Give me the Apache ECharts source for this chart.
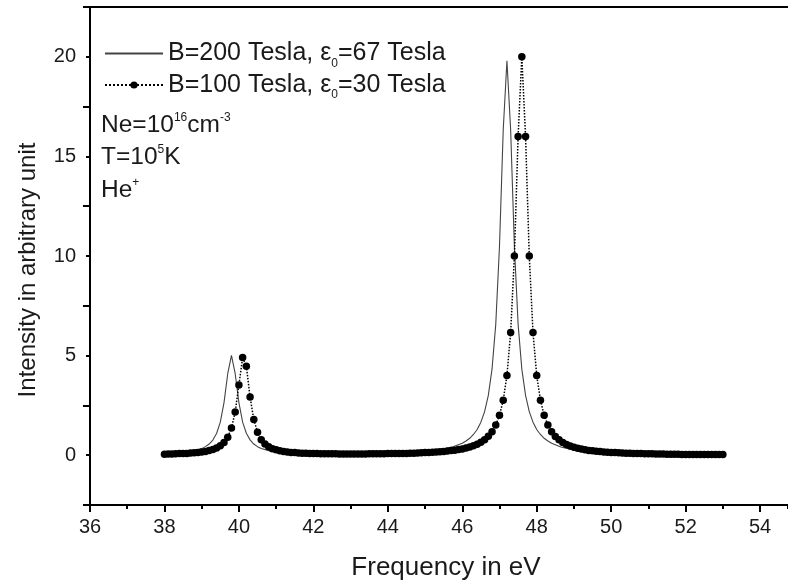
<!DOCTYPE html>
<html>
<head>
<meta charset="utf-8">
<script src="https://cdn.jsdelivr.net/npm/echarts@6/dist/echarts.min.js"></script>
<style>
html,body{margin:0;padding:0;background:#fff;}
#chart{width:788px;height:586px;}
</style>
</head>
<body>
<div id="chart"></div>
<script>
// ---- Data ----
const seriesNames = ['B=200 Tesla, ε0=67 Tesla', 'B=100 Tesla, ε0=30 Tesla'];

// B=200 Tesla (solid line)
const freqB200 = [
  38.0, 38.2, 38.4, 38.6, 38.8, 39.0, 39.1, 39.2, 39.3, 39.4,
  39.5, 39.6, 39.7, 39.8, 39.9, 40.0, 40.1, 40.2, 40.3, 40.4,
  40.5, 40.6, 40.8, 41.0, 41.25, 41.5, 42.0, 42.5, 43.0, 43.5,
  44.0, 44.5, 45.0, 45.25, 45.5, 45.75, 46.0, 46.1, 46.2, 46.3,
  46.4, 46.5, 46.6, 46.7, 46.8, 46.9, 47.0, 47.1, 47.2, 47.3,
  47.4, 47.5, 47.6, 47.7, 47.8, 47.9, 48.0, 48.1, 48.2, 48.3,
  48.4, 48.65, 48.9, 49.15, 49.4, 49.9, 50.4, 50.9, 51.4, 51.9,
  52.4, 52.9, 53.0
];
const intensB200 = [
  0.08, 0.10, 0.12, 0.16, 0.22, 0.33, 0.43, 0.56, 0.76, 1.09,
  1.66, 2.64, 4.09, 5.01, 4.09, 2.64, 1.66, 1.10, 0.77, 0.56,
  0.43, 0.34, 0.23, 0.17, 0.13, 0.10, 0.08, 0.07, 0.07, 0.08,
  0.10, 0.13, 0.19, 0.24, 0.31, 0.42, 0.60, 0.71, 0.85, 1.04,
  1.29, 1.66, 2.19, 3.00, 4.33, 6.58, 10.49, 16.31, 19.80, 16.31,
  10.49, 6.58, 4.32, 3.00, 2.19, 1.66, 1.29, 1.04, 0.85, 0.71,
  0.60, 0.41, 0.30, 0.23, 0.18, 0.12, 0.09, 0.06, 0.05, 0.04,
  0.03, 0.03, 0.03
];

// B=100 Tesla (dotted line with filled circles)
const freqB100 = [
  38.0, 38.1, 38.2, 38.3, 38.4, 38.5, 38.6, 38.7, 38.8, 38.9,
  39.0, 39.1, 39.2, 39.3, 39.4, 39.5, 39.6, 39.7, 39.8, 39.9,
  40.0, 40.1, 40.2, 40.3, 40.4, 40.5, 40.6, 40.7, 40.8, 40.9,
  41.0, 41.1, 41.2, 41.3, 41.4, 41.5, 41.6, 41.7, 41.8, 41.9,
  42.0, 42.1, 42.2, 42.3, 42.4, 42.5, 42.6, 42.7, 42.8, 42.9,
  43.0, 43.1, 43.2, 43.3, 43.4, 43.5, 43.6, 43.7, 43.8, 43.9,
  44.0, 44.1, 44.2, 44.3, 44.4, 44.5, 44.6, 44.7, 44.8, 44.9,
  45.0, 45.1, 45.2, 45.3, 45.4, 45.5, 45.6, 45.7, 45.8, 45.9,
  46.0, 46.1, 46.2, 46.3, 46.4, 46.5, 46.6, 46.7, 46.8, 46.9,
  47.0, 47.1, 47.2, 47.3, 47.4, 47.5, 47.6, 47.7, 47.8, 47.9,
  48.0, 48.1, 48.2, 48.3, 48.4, 48.5, 48.6, 48.7, 48.8, 48.9,
  49.0, 49.1, 49.2, 49.3, 49.4, 49.5, 49.6, 49.7, 49.8, 49.9,
  50.0, 50.1, 50.2, 50.3, 50.4, 50.5, 50.6, 50.7, 50.8, 50.9,
  51.0, 51.1, 51.2, 51.3, 51.4, 51.5, 51.6, 51.7, 51.8, 51.9,
  52.0, 52.1, 52.2, 52.3, 52.4, 52.5, 52.6, 52.7, 52.8, 52.9,
  53.0
];
const intensB100 = [
  0.05, 0.06, 0.06, 0.07, 0.08, 0.08, 0.09, 0.11, 0.12, 0.14,
  0.16, 0.19, 0.23, 0.29, 0.36, 0.47, 0.64, 0.90, 1.36, 2.17,
  3.53, 4.90, 4.47, 2.92, 1.79, 1.15, 0.78, 0.56, 0.43, 0.33,
  0.27, 0.22, 0.19, 0.16, 0.14, 0.13, 0.11, 0.10, 0.10, 0.09,
  0.08, 0.08, 0.07, 0.07, 0.07, 0.07, 0.07, 0.06, 0.06, 0.06,
  0.06, 0.06, 0.06, 0.06, 0.06, 0.07, 0.07, 0.07, 0.07, 0.07,
  0.08, 0.08, 0.08, 0.09, 0.09, 0.09, 0.10, 0.10, 0.11, 0.12,
  0.13, 0.14, 0.15, 0.16, 0.17, 0.19, 0.21, 0.23, 0.25, 0.28,
  0.31, 0.36, 0.41, 0.47, 0.55, 0.65, 0.77, 0.95, 1.18, 1.51,
  2.00, 2.76, 4.00, 6.16, 10.00, 16.00, 20.00, 16.00, 10.00, 6.16,
  4.00, 2.76, 2.00, 1.51, 1.18, 0.94, 0.77, 0.64, 0.54, 0.46,
  0.40, 0.35, 0.31, 0.27, 0.24, 0.22, 0.20, 0.18, 0.16, 0.15,
  0.14, 0.13, 0.12, 0.11, 0.10, 0.10, 0.09, 0.08, 0.08, 0.07,
  0.07, 0.07, 0.06, 0.06, 0.06, 0.05, 0.05, 0.05, 0.05, 0.04,
  0.04, 0.04, 0.04, 0.04, 0.04, 0.03, 0.03, 0.03, 0.03, 0.03,
  0.03
];

const xAxisTitle = 'Frequency in eV';
const yAxisTitle = 'Intensity in arbitrary unit';

// ---- Build chart ----
const FONT = 'Liberation Sans, Arial, sans-serif';
const TXT = '#1a1a1a';
const pairs = (xs, ys) => xs.map((x, i) => [x, ys[i]]);
const X_MIN = 36, X_MAX = 54.75, Y_MIN = -2.5, Y_MAX = 22.5;

const chart = echarts.init(document.getElementById('chart'), null, {renderer: 'canvas'});

const legendRich = {
  a: {fontSize: 25, fontFamily: FONT, color: TXT, lineHeight: 27},
  s: {fontSize: 12, fontFamily: FONT, color: TXT, verticalAlign: 'bottom', lineHeight: 32}
};
const supRich = {
  a: {fontSize: 24.5, fontFamily: FONT, fill: TXT, lineHeight: 27},
  p: {fontSize: 12, fontFamily: FONT, fill: TXT, verticalAlign: 'top', lineHeight: 27}
};

const option = {
  animation: false,
  backgroundColor: '#fff',
  grid: {left: 90, right: 0, top: 7, bottom: 80, show: false},
  legend: {
    orient: 'vertical',
    left: 99,
    top: 36,
    itemWidth: 58,
    itemHeight: 9,
    itemGap: 3,
    data: [
      {name: seriesNames[0], itemStyle: {opacity: 0}},
      {name: seriesNames[1]}
    ],
    textStyle: {fontSize: 25, fontFamily: FONT, color: TXT, rich: legendRich},
    formatter: function (name) {
      const parts = name.split('ε0');
      return '{a|' + parts[0] + 'ε}{s|0}{a|' + parts[1] + '}';
    }
  },
  graphic: [
    {type: 'text', left: 101, top: 112, style: {text: '{a|Ne=10}{p|16}{a|cm}{p|-3}', rich: supRich}},
    {type: 'text', left: 101, top: 144, style: {text: '{a|T=10}{p|5}{a|K}', rich: supRich}},
    {type: 'text', left: 101, top: 177, style: {text: '{a|He}{p|+}', rich: supRich}}
  ],
  xAxis: [
    {
      type: 'value', min: X_MIN, max: X_MAX, interval: 2, position: 'bottom',
      name: xAxisTitle, nameLocation: 'middle', nameGap: 50,
      nameTextStyle: {fontSize: 26, fontFamily: FONT, color: TXT, padding: [0, 0, 0, 14]},
      axisLine: {onZero: false, lineStyle: {color: '#000', width: 2}},
      axisTick: {show: true, inside: false, length: 7, lineStyle: {color: '#000', width: 2}},
      splitLine: {show: false},
      axisLabel: {fontSize: 20, fontFamily: FONT, color: TXT, margin: 12, showMaxLabel: false,
        formatter: v => (Math.abs(v % 2) < 1e-9 ? String(v) : '')}
    },
    {
      type: 'value', position: 'top', min: X_MIN, max: X_MAX,
      axisLine: {onZero: false, lineStyle: {color: '#000', width: 2}},
      axisTick: {show: false}, axisLabel: {show: false}, splitLine: {show: false}
    },
    {
      type: 'value', position: 'bottom', min: X_MIN, max: X_MAX, interval: 1,
      axisLine: {show: false, onZero: false},
      axisTick: {show: true, inside: false, length: 4, lineStyle: {color: '#000', width: 2}},
      axisLabel: {show: false}, splitLine: {show: false}
    }
  ],
  yAxis: [
    {
      type: 'value', min: Y_MIN, max: Y_MAX, interval: 2.5, position: 'left',
      name: yAxisTitle, nameLocation: 'middle', nameGap: 50,
      nameTextStyle: {fontSize: 24, fontFamily: FONT, color: TXT, padding: [0, 28, 0, 0]},
      axisLine: {show: true, onZero: false, lineStyle: {color: '#000', width: 2}},
      axisTick: {show: true, inside: false, length: 4, lineStyle: {color: '#000', width: 2}},
      splitLine: {show: false},
      axisLabel: {fontSize: 20, fontFamily: FONT, color: TXT, margin: 14,
        formatter: v => (Math.abs(v % 5) < 1e-9 ? String(v) : '')}
    },
    {
      type: 'value', min: Y_MIN, max: Y_MAX, interval: 5, position: 'left',
      axisLine: {show: false, onZero: false},
      axisTick: {show: true, inside: false, length: 7, lineStyle: {color: '#000', width: 2}},
      axisLabel: {show: false}, splitLine: {show: false}
    }
  ],
  series: [
    {
      name: seriesNames[0], type: 'line', xAxisIndex: 0, yAxisIndex: 0,
      data: pairs(freqB200, intensB200),
      symbol: 'none', showSymbol: false, smooth: false,
      lineStyle: {color: '#444', width: 1.1},
      itemStyle: {color: '#444'},
      z: 2
    },
    {
      name: seriesNames[1], type: 'line', xAxisIndex: 0, yAxisIndex: 0,
      data: pairs(freqB100, intensB100),
      symbol: 'circle', symbolSize: 7.5, showSymbol: true, smooth: false,
      lineStyle: {color: '#000', width: 1.5, type: 'dotted'},
      itemStyle: {color: '#000'},
      z: 3
    }
  ]
};
chart.setOption(option);
</script>
</body>
</html>
